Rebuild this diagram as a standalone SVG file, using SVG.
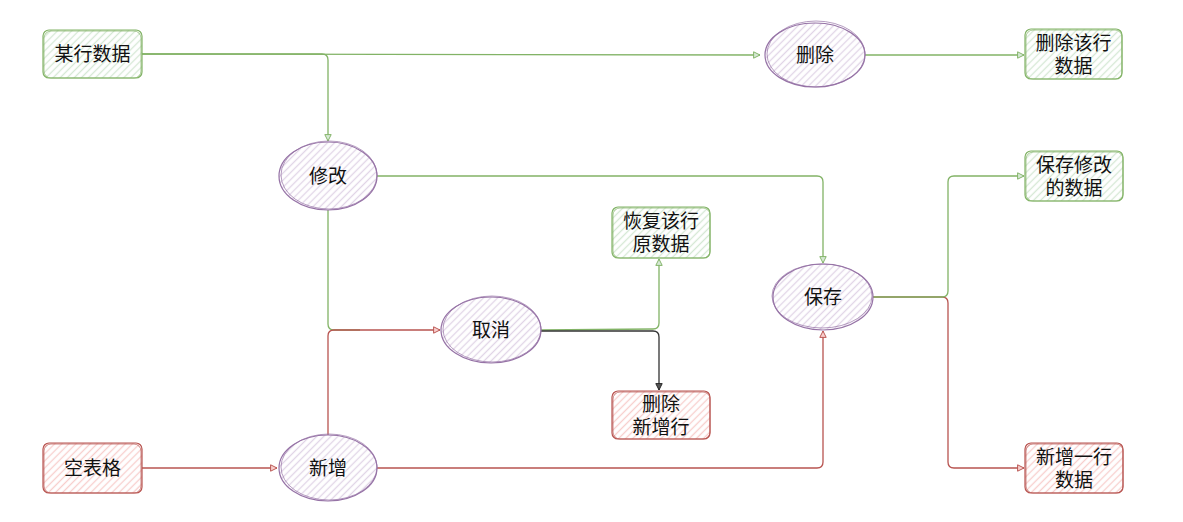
<svg xmlns="http://www.w3.org/2000/svg" width="1183" height="522" viewBox="0 0 1183 522">
<defs>
<pattern id="hg" width="5" height="5" patternUnits="userSpaceOnUse" patternTransform="rotate(-45)"><rect width="5" height="5" fill="#ffffff"/><line x1="0" y1="2.5" x2="5" y2="2.5" stroke="#d5e8d4" stroke-width="1.3"/></pattern>
<pattern id="hr" width="5" height="5" patternUnits="userSpaceOnUse" patternTransform="rotate(-45)"><rect width="5" height="5" fill="#ffffff"/><line x1="0" y1="2.5" x2="5" y2="2.5" stroke="#f8cecc" stroke-width="1.3"/></pattern>
<pattern id="hp" width="5" height="5" patternUnits="userSpaceOnUse" patternTransform="rotate(-45)"><rect width="5" height="5" fill="#ffffff"/><line x1="0" y1="2.5" x2="5" y2="2.5" stroke="#e1d5e7" stroke-width="1.3"/></pattern>
<marker id="ag" viewBox="0 0 10 10" refX="9" refY="5" markerWidth="8" markerHeight="8" orient="auto" markerUnits="userSpaceOnUse"><path d="M1,1 L9,5 L1,9 Z" fill="#d5e8d4" stroke="#82b366" stroke-width="1.2"/></marker>
<marker id="ar" viewBox="0 0 10 10" refX="9" refY="5" markerWidth="8" markerHeight="8" orient="auto" markerUnits="userSpaceOnUse"><path d="M1,1 L9,5 L1,9 Z" fill="#f8cecc" stroke="#b85450" stroke-width="1.2"/></marker>
<marker id="ak" viewBox="0 0 10 10" refX="9" refY="5" markerWidth="8" markerHeight="8" orient="auto" markerUnits="userSpaceOnUse"><path d="M1,1 L9,5 L1,9 Z" fill="#555555" stroke="#222222" stroke-width="1.2"/></marker>
<style>
text{font-family:"Liberation Sans","Noto Sans CJK SC",sans-serif;font-size:19px;fill:#111;text-anchor:middle;dominant-baseline:central}
.g{fill:url(#hg);stroke:#82b366;stroke-width:1.2}
.r{fill:url(#hr);stroke:#b85450;stroke-width:1.2}
.p{fill:url(#hp);stroke:#9673a6;stroke-width:1.2}
.s2{fill:none;stroke-width:0.7}
.cg{fill:none;stroke:#82b366;stroke-width:1.3}
.cr{fill:none;stroke:#b85450;stroke-width:1.3}
.ck{fill:none;stroke:#333333;stroke-width:1.3}
</style>
</defs>
<rect width="1183" height="522" fill="#ffffff"/>
<g id="connectors">
<path class="cg" d="M142,54 L760,55" marker-end="url(#ag)"/>
<path class="cg" d="M142,54 L322,54 Q328,54 328,60 L328,141" marker-end="url(#ag)"/>
<path class="cg" d="M865,55 L1024,55" marker-end="url(#ag)"/>
<path class="cg" d="M377,176 L817,176 Q823,176 823,182 L823,263" marker-end="url(#ag)"/>
<path class="cg" d="M328,210 L328,324 Q328,330 334,330 L360,330"/>
<path class="cr" d="M328,435 L328,336 Q328,330 334,330 L440,330" marker-end="url(#ar)"/>
<path class="cg" d="M541,330 L653,329 Q659,329 659,323 L659,259" marker-end="url(#ag)"/>
<path class="ck" d="M541,331 L653,331 Q659,331 659,337 L659,390" marker-end="url(#ak)"/>
<path class="cr" d="M873,297 L942,297 Q948,297 948,303 L948,462 Q948,468 954,468 L1024,468" marker-end="url(#ar)"/>
<path class="cg" d="M873,297 L942,297 Q948,297 948,291 L948,182 Q948,176 954,176 L1024,176" marker-end="url(#ag)"/>
<path class="cr" d="M142,468 L277,468" marker-end="url(#ar)"/>
<path class="cr" d="M377,468 L817,468 Q823,468 823,462 L823,331" marker-end="url(#ar)"/>
</g>
<g id="n_row">
<rect class="g" x="43" y="30" width="99" height="48" rx="6"/>
<rect class="s2" x="44" y="31" width="97" height="47" rx="7" stroke="#82b366"/>
<text x="92.5" y="54">某行数据</text>
</g>
<g id="n_delete">
<ellipse class="p" cx="815" cy="55" rx="50" ry="32"/>
<ellipse class="s2" cx="816" cy="54" rx="49" ry="33" stroke="#9673a6"/>
<text x="815" y="55">删除</text>
</g>
<g id="n_delrow">
<rect class="g" x="1025" y="29" width="97" height="50" rx="6"/>
<rect class="s2" x="1026" y="30" width="96" height="49" rx="7" stroke="#82b366"/>
<text x="1073.5" y="43">删除该行</text>
<text x="1073.5" y="66">数据</text>
</g>
<g id="n_modify">
<ellipse class="p" cx="328" cy="176" rx="49" ry="34"/>
<ellipse class="s2" cx="329" cy="175" rx="48" ry="34" stroke="#9673a6"/>
<text x="328" y="176">修改</text>
</g>
<g id="n_cancel">
<ellipse class="p" cx="491" cy="330" rx="50" ry="33"/>
<ellipse class="s2" cx="492" cy="329" rx="49" ry="33" stroke="#9673a6"/>
<text x="491" y="330">取消</text>
</g>
<g id="n_restore">
<rect class="g" x="612" y="207" width="98" height="51" rx="6"/>
<rect class="s2" x="613" y="208" width="97" height="50" rx="7" stroke="#82b366"/>
<text x="661" y="221">恢复该行</text>
<text x="661" y="244">原数据</text>
</g>
<g id="n_delnew">
<rect class="r" x="612" y="391" width="98" height="48" rx="6"/>
<rect class="s2" x="613" y="392" width="97" height="47" rx="7" stroke="#b85450"/>
<text x="661" y="404">删除</text>
<text x="661" y="427">新增行</text>
</g>
<g id="n_save">
<ellipse class="p" cx="823" cy="297" rx="50" ry="33"/>
<ellipse class="s2" cx="822" cy="296" rx="50" ry="32" stroke="#9673a6"/>
<text x="823" y="297">保存</text>
</g>
<g id="n_savemod">
<rect class="g" x="1025" y="151" width="98" height="50" rx="6"/>
<rect class="s2" x="1026" y="152" width="97" height="49" rx="7" stroke="#82b366"/>
<text x="1074" y="165">保存修改</text>
<text x="1074" y="188">的数据</text>
</g>
<g id="n_addrow">
<rect class="r" x="1025" y="443" width="98" height="50" rx="6"/>
<rect class="s2" x="1026" y="444" width="97" height="49" rx="7" stroke="#b85450"/>
<text x="1074" y="457">新增一行</text>
<text x="1074" y="480">数据</text>
</g>
<g id="n_empty">
<rect class="r" x="43" y="443" width="99" height="50" rx="6"/>
<rect class="s2" x="44" y="444" width="97" height="49" rx="7" stroke="#b85450"/>
<text x="92.5" y="468">空表格</text>
</g>
<g id="n_add">
<ellipse class="p" cx="328" cy="468" rx="49" ry="33"/>
<ellipse class="s2" cx="329" cy="467" rx="48" ry="33" stroke="#9673a6"/>
<text x="328" y="468">新增</text>
</g>
</svg>
